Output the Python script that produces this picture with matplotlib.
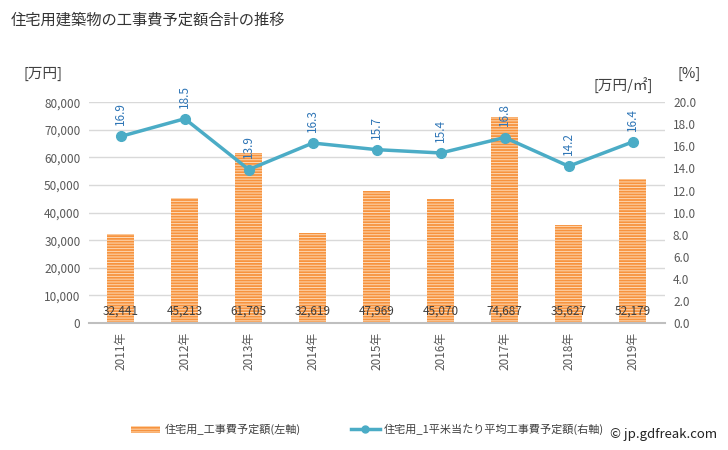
import numpy as np
import matplotlib.pyplot as plt
from matplotlib.patches import Patch
from matplotlib.lines import Line2D

plt.rcParams['font.family'] = ['Noto Sans CJK JP', 'DejaVu Sans']
plt.rcParams['hatch.linewidth'] = 0.7
plt.rcParams['hatch.color'] = '#fdd9b5'

years = ['2011年', '2012年', '2013年', '2014年', '2015年', '2016年', '2017年', '2018年', '2019年']
cost_total = [32441, 45213, 61705, 32619, 47969, 45070, 74687, 35627, 52179]
cost_per_m2 = [16.9, 18.5, 13.9, 16.3, 15.7, 15.4, 16.8, 14.2, 16.4]

fig = plt.figure(figsize=(7.28, 4.5), dpi=100)
ax = fig.add_axes([0.122, 0.282, 0.791, 0.491])
ax2 = ax.twinx()

x = np.arange(len(years))
ax.bar(x, cost_total, width=0.42, color='#f7933e', edgecolor='#fdd9b5',
       hatch='------', linewidth=0, zorder=2)
for xi, v in zip(x, cost_total):
    ax.text(xi, 4500, f'{v:,}', ha='center', va='center', fontsize=8.5,
            color='#404040', zorder=5)

ax.set_xlim(-0.5, len(years) - 0.5)
ax.set_ylim(0, 80000)
ax.set_yticks(np.arange(0, 80001, 10000))
ax.set_yticklabels([f'{t:,}' for t in range(0, 80001, 10000)], fontsize=8.5, color='#595959')
ax.set_xticks(x)
ax.set_xticklabels(years, rotation=90, fontsize=8.5, color='#595959')
ax.grid(axis='y', color='#d9d9d9', linewidth=1, zorder=0)
ax.set_axisbelow(True)
for s in ['top', 'right', 'left']:
    ax.spines[s].set_visible(False)
ax.spines['bottom'].set_color('#bfbfbf')
ax.spines['bottom'].set_linewidth(1.5)
ax.tick_params(length=0, pad=6)

ax2.plot(x, cost_per_m2, color='#4bacc6', linewidth=2.5, marker='o', markersize=7, zorder=4)
for xi, v in zip(x, cost_per_m2):
    ax2.annotate(f'{v}', (xi, v), xytext=(0, 8), textcoords='offset points',
                 rotation=90, ha='center', va='bottom', fontsize=8.5, color='#2e75b6')
ax2.set_ylim(0, 20)
ax2.set_yticks(np.arange(0, 20.1, 2))
ax2.set_yticklabels([f'{t:.1f}' for t in np.arange(0, 20.1, 2)], fontsize=8.5, color='#595959')
for s in ax2.spines.values():
    s.set_visible(False)
ax2.tick_params(length=0, pad=6)
ax.set_zorder(ax2.get_zorder() - 1)
ax.patch.set_visible(False)

fig.text(0.014, 0.955, '住宅用建築物の工事費予定額合計の推移', fontsize=11, color='#333333', va='center')
fig.text(0.032, 0.835, '[万円]', fontsize=10.5, color='#404040', va='center')
fig.text(0.815, 0.81, '[万円/㎡]', fontsize=10.5, color='#404040', va='center')
fig.text(0.93, 0.835, '[%]', fontsize=10.5, color='#404040', va='center')

handles = [Patch(facecolor='#f7933e', edgecolor='#fdd9b5', hatch='------', linewidth=0),
           Line2D([0], [0], color='#4bacc6', linewidth=2.5, marker='o', markersize=5)]
fig.legend(handles, ['住宅用_工事費予定額(左軸)', '住宅用_1平米当たり平均工事費予定額(右軸)'],
           loc='center', bbox_to_anchor=(0.505, 0.045), ncol=2, frameon=False,
           fontsize=8, handlelength=2.6, handletextpad=0.4, columnspacing=4.5,
           labelcolor='#404040')
fig.text(0.985, 0.035, '© jp.gdfreak.com', fontsize=9.5, color='#222222', ha='right', va='center')

fig.savefig('out.png', dpi=100)
